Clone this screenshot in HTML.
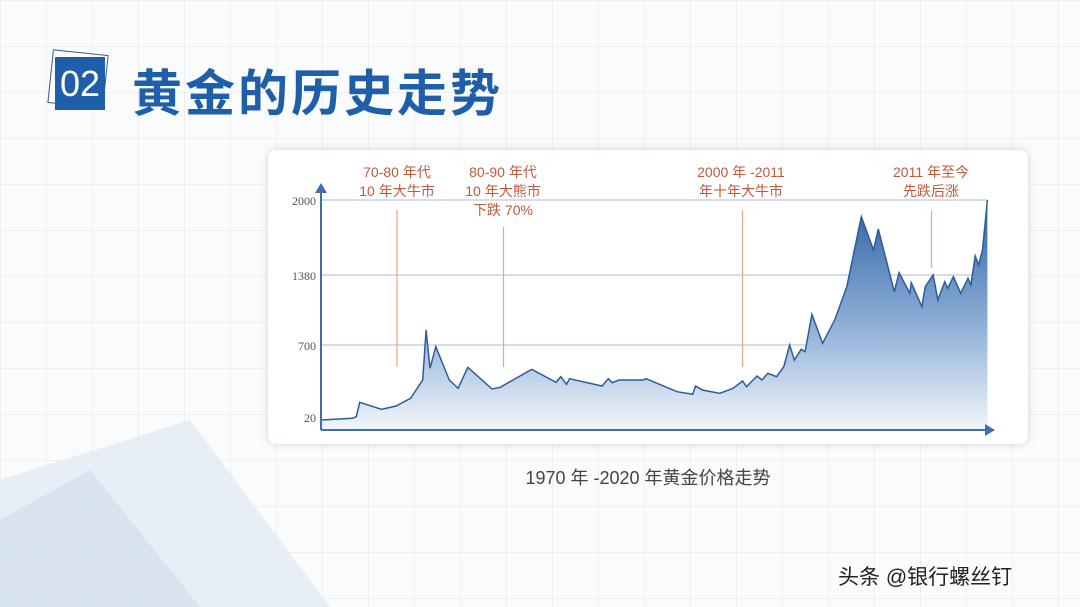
<!DOCTYPE html>
<html><head><meta charset="utf-8"><style>
body{margin:0;width:1080px;height:607px;overflow:hidden;position:relative;font-family:"Liberation Sans","Noto Sans CJK SC",sans-serif;
background-color:#fafbfc;
background-image:linear-gradient(#eceef2 1px,transparent 1px),linear-gradient(90deg,#eceef2 1px,transparent 1px);background-size:46px 46px;}
.card{position:absolute;left:268px;top:150px;width:760px;height:294px;background:#fff;border-radius:8px;box-shadow:0 0 8px rgba(120,140,170,.35);}
</style></head><body>
<svg style="position:absolute;left:0;top:0" width="1080" height="607">
<polygon points="0,480 190,420 330,607 0,607" fill="#e3ebf4" opacity=".8"/>
<polygon points="0,520 90,470 200,607 0,607" fill="#d3e0ee" opacity=".8"/>
</svg>
<div style="position:absolute;left:50px;top:52px;width:54px;height:52px;border:1.5px solid #3a5a88;transform:rotate(6deg)"></div>
<div style="position:absolute;left:55px;top:57px;width:50px;height:53px;background:#1f5ea8;color:#fff;font-size:36px;line-height:53px;text-align:center">02</div>
<div style="position:absolute;left:132px;top:54px;font-size:50px;font-weight:bold;color:#1f5ea8;letter-spacing:3px;font-family:'Noto Sans CJK SC',sans-serif">黄金的历史走势</div>
<div class="card"></div>
<svg style="position:absolute;left:0;top:0" width="1080" height="607" id="ch">
<defs><linearGradient id="g" gradientUnits="userSpaceOnUse" x1="0" y1="200" x2="0" y2="430"><stop offset="0" stop-color="#2f62a3"/><stop offset="0.55" stop-color="#8fb0d8"/><stop offset="1" stop-color="#f2f6fb"/></linearGradient></defs>
<g stroke="#a9bdd6" stroke-width="1">
<line x1="321" y1="200" x2="987" y2="200"/><line x1="321" y1="275" x2="987" y2="275"/>
<line x1="321" y1="345" x2="987" y2="345"/><line x1="321" y1="421" x2="987" y2="421"/></g>
<path id="area" fill="url(#g)"/>
<path id="line" fill="none" stroke="#2d5c9c" stroke-width="1.5"/>
<line x1="321" y1="430" x2="990" y2="430" stroke="#3f6fb0" stroke-width="2"/>
<polygon points="995,430 985,424 985,436" fill="#3f6fb0"/>
<line x1="321" y1="430" x2="321" y2="190" stroke="#3f6fb0" stroke-width="2"/>
<polygon points="321,183 315,193 327,193" fill="#3f6fb0"/>
<g font-size="12" fill="#555" text-anchor="end" font-family="Liberation Serif,serif">
<text x="316" y="205">2000</text><text x="316" y="280">1380</text><text x="316" y="350">700</text><text x="316" y="422">20</text></g>
<g stroke="#e8a58a" stroke-width="1.2">
<line x1="397" y1="210" x2="397" y2="367"/><line x1="503.5" y1="227" x2="503.5" y2="367"/>
<line x1="742.5" y1="210" x2="742.5" y2="367"/><line x1="931.5" y1="210" x2="931.5" y2="268"/></g>
<g font-size="14" fill="#c2593a" text-anchor="middle" font-family="Liberation Sans,Noto Sans CJK SC,sans-serif">
<text x="397" y="177">70-80 年代</text><text x="397" y="196">10 年大牛市</text>
<text x="503" y="177">80-90 年代</text><text x="503" y="196">10 年大熊市</text><text x="503" y="215">下跌 70%</text>
<text x="741" y="177">2000 年 -2011</text><text x="741" y="196">年十年大牛市</text>
<text x="931" y="177">2011 年至今</text><text x="931" y="196">先跌后涨</text></g>
<text x="648" y="484" font-size="18" fill="#444" text-anchor="middle" font-family="Liberation Sans,Noto Sans CJK SC,sans-serif">1970 年 -2020 年黄金价格走势</text>
<text x="838" y="584" font-size="21" fill="#222" font-family="Liberation Sans,Noto Sans CJK SC,sans-serif">头条 @银行螺丝钉</text>
</svg>
<script>
var p=[[107,810],[170,805],[178,800],[185,757],[230,778],[260,768],[290,745],[315,690],[322,540],[330,655],[342,590],[370,690],[388,715],[408,652],[458,717],[475,712],[540,658],[590,697],[600,680],[612,703],[618,686],[685,708],[698,686],[706,698],[720,690],[770,690],[776,686],[840,725],[872,733],[878,708],[892,720],[928,730],[955,715],[975,693],[983,710],[1005,678],[1015,690],[1027,670],[1045,680],[1060,650],[1072,585],[1082,630],[1096,598],[1104,605],[1118,493],[1140,580],[1165,510],[1190,410],[1220,200],[1245,300],[1255,237],[1288,425],[1298,368],[1320,430],[1323,398],[1345,470],[1352,410],[1368,375],[1378,450],[1392,395],[1398,415],[1410,380],[1425,430],[1440,385],[1446,405],[1455,318],[1462,345],[1470,300],[1480,150]];
var s=p.map(function(q,i){return (i?'L':'M')+(270+q[0]*0.4847).toFixed(1)+','+(150+q[1]/3).toFixed(1)}).join(' ');
document.getElementById('line').setAttribute('d',s);
var x0=(270+107*0.4847).toFixed(1),x1=(270+1480*0.4847).toFixed(1);
document.getElementById('area').setAttribute('d',s+' L'+x1+',430 L'+x0+',430 Z');
</script>
</body></html>
